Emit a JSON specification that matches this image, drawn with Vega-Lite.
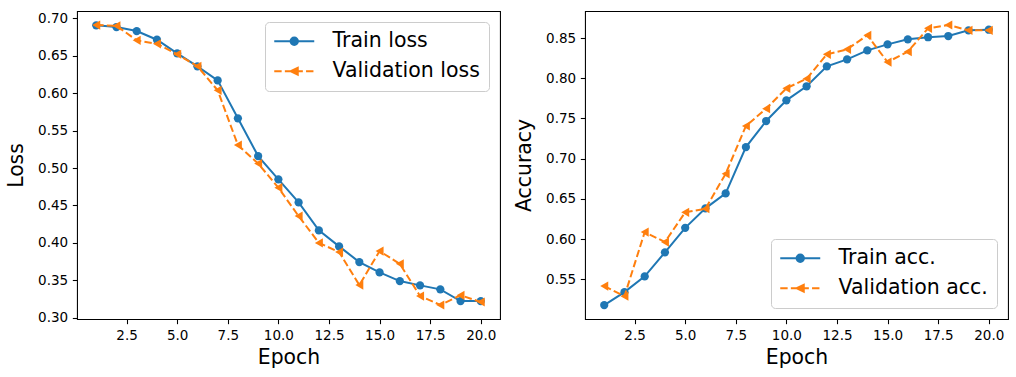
{
  "$schema": "https://vega.github.io/schema/vega-lite/v6.json",
  "background": "white",
  "padding": {"left": 6, "top": 10, "right": 5, "bottom": 5},
  "datasets": {
    "loss": [
      {"epoch": 1, "s": "Train", "v": 0.6906}, {"epoch": 2, "s": "Train", "v": 0.6884}, {"epoch": 3, "s": "Train", "v": 0.683}, {"epoch": 4, "s": "Train", "v": 0.6714}, {"epoch": 5, "s": "Train", "v": 0.6532},
      {"epoch": 6, "s": "Train", "v": 0.6359}, {"epoch": 7, "s": "Train", "v": 0.6171}, {"epoch": 8, "s": "Train", "v": 0.5664}, {"epoch": 9, "s": "Train", "v": 0.516}, {"epoch": 10, "s": "Train", "v": 0.4849},
      {"epoch": 11, "s": "Train", "v": 0.4541}, {"epoch": 12, "s": "Train", "v": 0.4167}, {"epoch": 13, "s": "Train", "v": 0.3953}, {"epoch": 14, "s": "Train", "v": 0.3744}, {"epoch": 15, "s": "Train", "v": 0.3605},
      {"epoch": 16, "s": "Train", "v": 0.349}, {"epoch": 17, "s": "Train", "v": 0.3432}, {"epoch": 18, "s": "Train", "v": 0.3379}, {"epoch": 19, "s": "Train", "v": 0.3222}, {"epoch": 20, "s": "Train", "v": 0.3222},
      {"epoch": 1, "s": "Validation", "v": 0.691}, {"epoch": 2, "s": "Validation", "v": 0.690}, {"epoch": 3, "s": "Validation", "v": 0.6706}, {"epoch": 4, "s": "Validation", "v": 0.666}, {"epoch": 5, "s": "Validation", "v": 0.652},
      {"epoch": 6, "s": "Validation", "v": 0.636}, {"epoch": 7, "s": "Validation", "v": 0.6038}, {"epoch": 8, "s": "Validation", "v": 0.5307}, {"epoch": 9, "s": "Validation", "v": 0.506}, {"epoch": 10, "s": "Validation", "v": 0.4737},
      {"epoch": 11, "s": "Validation", "v": 0.4358}, {"epoch": 12, "s": "Validation", "v": 0.40}, {"epoch": 13, "s": "Validation", "v": 0.3877}, {"epoch": 14, "s": "Validation", "v": 0.3436}, {"epoch": 15, "s": "Validation", "v": 0.389},
      {"epoch": 16, "s": "Validation", "v": 0.372}, {"epoch": 17, "s": "Validation", "v": 0.329}, {"epoch": 18, "s": "Validation", "v": 0.317}, {"epoch": 19, "s": "Validation", "v": 0.330}, {"epoch": 20, "s": "Validation", "v": 0.321}
    ],
    "acc": [
      {"epoch": 1, "s": "Train", "v": 0.5179}, {"epoch": 2, "s": "Train", "v": 0.534}, {"epoch": 3, "s": "Train", "v": 0.5536}, {"epoch": 4, "s": "Train", "v": 0.5835}, {"epoch": 5, "s": "Train", "v": 0.614},
      {"epoch": 6, "s": "Train", "v": 0.6382}, {"epoch": 7, "s": "Train", "v": 0.6568}, {"epoch": 8, "s": "Train", "v": 0.7144}, {"epoch": 9, "s": "Train", "v": 0.7468}, {"epoch": 10, "s": "Train", "v": 0.7725},
      {"epoch": 11, "s": "Train", "v": 0.790}, {"epoch": 12, "s": "Train", "v": 0.8148}, {"epoch": 13, "s": "Train", "v": 0.8235}, {"epoch": 14, "s": "Train", "v": 0.8347}, {"epoch": 15, "s": "Train", "v": 0.8421},
      {"epoch": 16, "s": "Train", "v": 0.8484}, {"epoch": 17, "s": "Train", "v": 0.851}, {"epoch": 18, "s": "Train", "v": 0.8525}, {"epoch": 19, "s": "Train", "v": 0.8596}, {"epoch": 20, "s": "Train", "v": 0.8603},
      {"epoch": 1, "s": "Validation", "v": 0.5415}, {"epoch": 2, "s": "Validation", "v": 0.529}, {"epoch": 3, "s": "Validation", "v": 0.6087}, {"epoch": 4, "s": "Validation", "v": 0.5963}, {"epoch": 5, "s": "Validation", "v": 0.6332},
      {"epoch": 6, "s": "Validation", "v": 0.6377}, {"epoch": 7, "s": "Validation", "v": 0.6812}, {"epoch": 8, "s": "Validation", "v": 0.7406}, {"epoch": 9, "s": "Validation", "v": 0.7621}, {"epoch": 10, "s": "Validation", "v": 0.7874},
      {"epoch": 11, "s": "Validation", "v": 0.7994}, {"epoch": 12, "s": "Validation", "v": 0.8297}, {"epoch": 13, "s": "Validation", "v": 0.8359}, {"epoch": 14, "s": "Validation", "v": 0.8534}, {"epoch": 15, "s": "Validation", "v": 0.8201},
      {"epoch": 16, "s": "Validation", "v": 0.833}, {"epoch": 17, "s": "Validation", "v": 0.862}, {"epoch": 18, "s": "Validation", "v": 0.8662}, {"epoch": 19, "s": "Validation", "v": 0.8596}, {"epoch": 20, "s": "Validation", "v": 0.8596}
    ]
  },
  "config": {
    "font": "DejaVu Sans",
    "view": {"stroke": "black", "strokeWidth": 1.07, "fill": "white"},
    "axis": {
      "grid": false, "domain": false,
      "labelFont": "DejaVu Sans", "labelFontSize": 13.5, "labelColor": "black",
      "tickColor": "black", "tickSize": 4.67, "tickWidth": 1.07, "labelPadding": 4.67,
      "titleFont": "DejaVu Sans", "titleFontSize": 20.4, "titleFontWeight": "normal", "titleColor": "black"
    },
    "axisX": {"titlePadding": 5.5},
    "axisY": {"titlePadding": 11},
    "legend": {
      "title": null, "offset": 11, "padding": 9, "cornerRadius": 4,
      "strokeColor": "#cccccc", "fillColor": "rgba(255,255,255,0.8)",
      "labelFont": "DejaVu Sans", "labelFontSize": 20.5, "labelColor": "black", "labelLimit": 400,
      "labelOffset": 38, "rowPadding": 9, "symbolSize": 324, "symbolStrokeWidth": 2,
      "symbolOpacity": 1
    }
  },
  "spacing": 13,
  "resolve": {"scale": {"color": "independent"}, "legend": {"color": "independent"}},
  "hconcat": [
    {
      "width": 423, "height": 308,
      "data": {"name": "loss"},
      "encoding": {
        "x": {"field": "epoch", "type": "quantitative", "scale": {"domain": [0.05, 20.95], "nice": false, "zero": false},
              "axis": {"values": [2.5, 5, 7.5, 10, 12.5, 15, 17.5, 20], "format": ".1f", "title": "Epoch"}},
        "y": {"field": "v", "type": "quantitative", "scale": {"domain": [0.2983, 0.7098], "nice": false, "zero": false},
              "axis": {"values": [0.3, 0.35, 0.4, 0.45, 0.5, 0.55, 0.6, 0.65, 0.7], "format": ".2f", "title": "Loss"}},
        "color": {"field": "s", "type": "nominal",
                  "scale": {"domain": ["Train", "Validation"], "range": ["#1f77b4", "#ff7f0e"]},
                  "legend": {"orient": "top-right",
                             "labelExpr": "datum.label === 'Train' ? 'Train loss' : 'Validation loss'",
                             "encode": {"symbols": {"update": {
                               "shape": {"signal": "datum.value === 'Train' ? 'M-1.111,0L3.333,0M0.7,0A0.411,0.411,0,1,1,1.522,0A0.411,0.411,0,1,1,0.7,0Z' : 'M-1.111,0L-0.289,0M0.067,0L0.889,0M1.244,0L2.067,0M2.422,0L3.244,0M0.722,0L1.5,-0.367L1.5,0.367Z'"},
                               "fill": {"signal": "datum.value === 'Train' ? '#1f77b4' : '#ff7f0e'"},
                               "stroke": {"signal": "datum.value === 'Train' ? '#1f77b4' : '#ff7f0e'"},
                               "strokeWidth": {"value": 2},
                               "strokeDash": {"value": []},
                               "size": {"value": 324},
                               "opacity": {"value": 1}
                             }}}}}
      },
      "layer": [
        {"transform": [{"filter": "datum.s === 'Train'"}], "mark": {"type": "line", "strokeWidth": 2}},
        {"transform": [{"filter": "datum.s === 'Train'"}], "mark": {"type": "point", "shape": "circle", "filled": true, "size": 68, "opacity": 1}},
        {"transform": [{"filter": "datum.s === 'Validation'"}], "mark": {"type": "line", "strokeWidth": 2, "strokeDash": [7.4, 3.2]}},
        {"transform": [{"filter": "datum.s === 'Validation'"}], "mark": {"type": "point", "shape": "triangle-left", "filled": true, "size": 85, "opacity": 1}}
      ]
    },
    {
      "width": 423, "height": 308,
      "data": {"name": "acc"},
      "encoding": {
        "x": {"field": "epoch", "type": "quantitative", "scale": {"domain": [0.05, 20.95], "nice": false, "zero": false},
              "axis": {"values": [2.5, 5, 7.5, 10, 12.5, 15, 17.5, 20], "format": ".1f", "title": "Epoch"}},
        "y": {"field": "v", "type": "quantitative", "scale": {"domain": [0.5006, 0.8836], "nice": false, "zero": false},
              "axis": {"values": [0.55, 0.6, 0.65, 0.7, 0.75, 0.8, 0.85], "format": ".2f", "title": "Accuracy"}},
        "color": {"field": "s", "type": "nominal",
                  "scale": {"domain": ["Train", "Validation"], "range": ["#1f77b4", "#ff7f0e"]},
                  "legend": {"orient": "bottom-right",
                             "labelExpr": "datum.label === 'Train' ? 'Train acc.' : 'Validation acc.'",
                             "encode": {"symbols": {"update": {
                               "shape": {"signal": "datum.value === 'Train' ? 'M-1.111,0L3.333,0M0.7,0A0.411,0.411,0,1,1,1.522,0A0.411,0.411,0,1,1,0.7,0Z' : 'M-1.111,0L-0.289,0M0.067,0L0.889,0M1.244,0L2.067,0M2.422,0L3.244,0M0.722,0L1.5,-0.367L1.5,0.367Z'"},
                               "fill": {"signal": "datum.value === 'Train' ? '#1f77b4' : '#ff7f0e'"},
                               "stroke": {"signal": "datum.value === 'Train' ? '#1f77b4' : '#ff7f0e'"},
                               "strokeWidth": {"value": 2},
                               "strokeDash": {"value": []},
                               "size": {"value": 324},
                               "opacity": {"value": 1}
                             }}}}}
      },
      "layer": [
        {"transform": [{"filter": "datum.s === 'Train'"}], "mark": {"type": "line", "strokeWidth": 2}},
        {"transform": [{"filter": "datum.s === 'Train'"}], "mark": {"type": "point", "shape": "circle", "filled": true, "size": 68, "opacity": 1}},
        {"transform": [{"filter": "datum.s === 'Validation'"}], "mark": {"type": "line", "strokeWidth": 2, "strokeDash": [7.4, 3.2]}},
        {"transform": [{"filter": "datum.s === 'Validation'"}], "mark": {"type": "point", "shape": "triangle-left", "filled": true, "size": 85, "opacity": 1}}
      ]
    }
  ]
}
